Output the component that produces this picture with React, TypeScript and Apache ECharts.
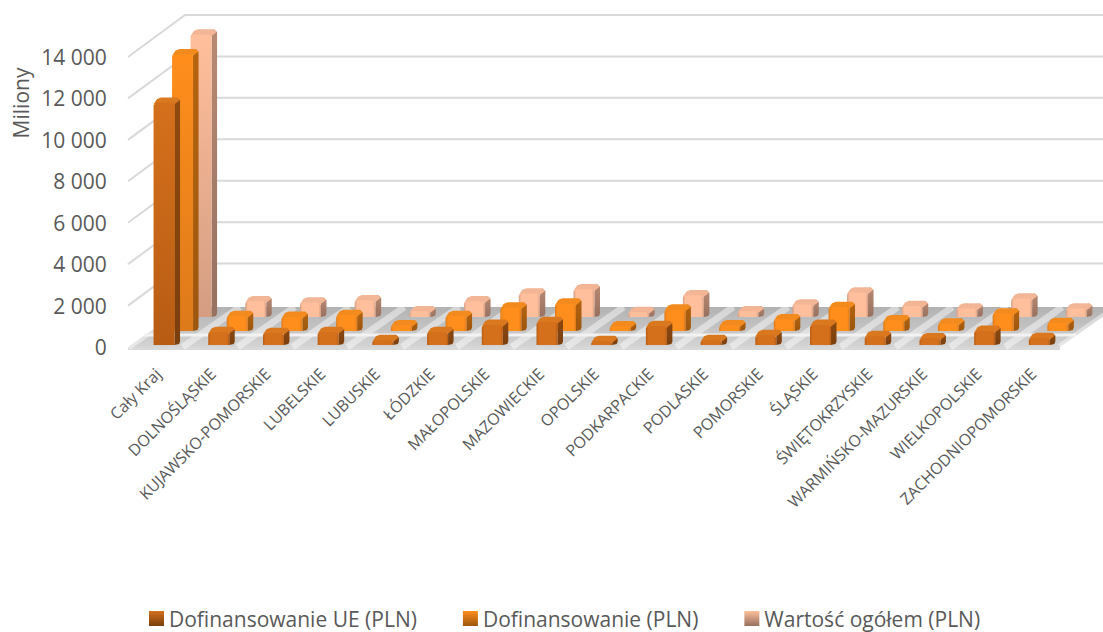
import React, { useEffect, useRef } from "react";
import * as echarts from "echarts";

const categories = ["Cały Kraj","DOLNOŚLĄSKIE","KUJAWSKO-POMORSKIE","LUBELSKIE","LUBUSKIE","ŁÓDZKIE","MAŁOPOLSKIE","MAZOWIECKIE","OPOLSKIE","PODKARPACKIE","PODLASKIE","POMORSKIE","ŚLĄSKIE","ŚWIĘTOKRZYSKIE","WARMIŃSKO-MAZURSKIE","WIELKOPOLSKIE","ZACHODNIOPOMORSKIE"];
const dofinansowanieUE = [11690,630,580,630,240,630,970,1110,190,920,240,480,970,430,320,680,340];
const dofinansowanie = [13360,725,680,770,280,725,1130,1320,230,1030,275,565,1160,515,355,845,385];
const wartoscOgolem = [13640,757,695,805,275,757,1130,1340,240,1050,275,600,1180,530,405,890,405];
const wallTicks = [2000,4000,6000,8000,10000,12000,14000];
const seriesNames = ["Dofinansowanie UE (PLN)","Dofinansowanie (PLN)","Wartość ogółem (PLN)"];

const FW = 21, DX = 5.5, DY = 5.3;
const GRID_LEFT = 130.7;
const looks = [
  { ox: -4.5, oy: -2, top: "#d9781f", frontA: "#d4701c", frontB: "#b85c14", sideA: "#8f4a10", sideB: "#7a3f0e" },
  { ox: 14, oy: -16, top: "#f28a1e", frontA: "#ff8e1c", frontB: "#dd7a1a", sideA: "#b5640f", sideB: "#9c560e" },
  { ox: 32.5, oy: -30, top: "#f2b595", frontA: "#ffbf9c", frontB: "#d49d82", sideA: "#b98a72", sideB: "#967060" },
];

function barItem(idx: number) {
  const k = looks[idx];
  return (params: any, api: any) => {
    const p0 = api.coord([api.value(0), 0]);
    const p1 = api.coord([api.value(0), api.value(1)]);
    const x = p0[0] + k.ox, yb = p0[1] + k.oy, yt = p1[1] + k.oy;
    const grad = (a: string, b: string) => new echarts.graphic.LinearGradient(0, 0, 0, 1, [{ offset: 0, color: a }, { offset: 1, color: b }]);
    const frontFill = new echarts.graphic.LinearGradient(0, 0, 1, 0, [
      { offset: 0, color: k.frontB },
      { offset: 0.12, color: k.frontA },
      { offset: 0.88, color: k.frontA },
      { offset: 1, color: k.frontB },
    ]);
    const h = yb - yt;
    const r = 3;
    return {
      type: "group",
      children: [
        { type: "polygon", shape: { points: [[x + FW, yb], [x + FW + DX - 1, yb - 1], [x + FW + DX, yb - DY + 1.5], [x + FW + DX, yt - DY + 3], [x + FW + DX - 3, yt - DY], [x + FW, yt]] }, style: { fill: grad(k.sideA, k.sideB) } },
        { type: "polygon", shape: { points: [[x, yt + 1.5], [x + DX - 2, yt - DY + 1.5], [x + DX + 2, yt - DY], [x + FW + DX - 3, yt - DY], [x + FW + DX, yt - DY + 2.5], [x + FW, yt + 1.5]] }, style: { fill: k.top } },
        { type: "polygon", shape: { points: [[x, yt + r * 0.7], [x + r, yt], [x + FW - r, yt], [x + FW, yt + r * 0.7], [x + FW, yb], [x, yb]] }, style: { fill: h > 40 ? grad(k.frontA, k.frontB) : frontFill } },
      ],
    };
  };
}

function floorItem(params: any, api: any) {
  const sys = params.coordSys;
  const fx = sys.x - 2.7, fy = sys.y + sys.height;
  const rx = fx + 932;
  const bx = 57, by = 42;
  const children: any[] = [
    { type: "polygon", shape: { points: [[fx, fy], [fx + bx, fy - by + 2], [rx + bx, fy - by + 2], [rx, fy]] }, style: { fill: new echarts.graphic.LinearGradient(0, 0, 0, 1, [{ offset: 0, color: "#b2b2b2" }, { offset: 0.3, color: "#bcbcbc" }, { offset: 0.62, color: "#c6c6c6" }, { offset: 1, color: "#d4d4d4" }]) } },
    { type: "polygon", shape: { points: [[fx, fy], [rx, fy], [rx, fy + 3], [fx, fy + 3]] }, style: { fill: "#d8d8d8" } },
  ];
  for (let i = 0; i <= categories.length; i++) {
    const sx = fx + ((rx - fx) * i) / categories.length;
    children.push({ type: "line", shape: { x1: sx, y1: fy, x2: sx + bx, y2: fy - by + 2 }, style: { stroke: "rgba(255,255,255,0.45)", lineWidth: 7 } });
  }
  const ly = fy - 12;
  const lx = fx + 16;
  children.push({ type: "line", shape: { x1: lx, y1: ly, x2: rx + 16, y2: ly }, style: { stroke: "#f2f2f2", lineWidth: 3 } });
  return { type: "group", children };
}

function wallItem(params: any, api: any) {
  const sys = params.coordSys;
  const p = api.coord([0, api.value(0)]);
  const x = sys.x - 2.7, y = p[1];
  return {
    type: "polyline",
    shape: { points: [[x, y], [x + 57, y - 42], [1110, y - 42]] },
    style: { fill: "none", stroke: "#d9d9d9", lineWidth: 2 },
  };
}

const toData = (vals: number[]) => vals.map((v, i) => [i, v]);

export default function App() {
  const ref = useRef<HTMLDivElement>(null);
  useEffect(() => {
    document.body.style.margin = "0";
    const chart = echarts.init(ref.current!, null, { renderer: "svg" });
    const font = "'Open Sans', sans-serif";
    const mkSeries = (name: string, vals: number[], idx: number) => ({
      type: "custom",
      name,
      coordinateSystem: "cartesian2d",
      renderItem: barItem(idx),
      data: toData(vals),
      encode: { x: 0, y: 1 },
      clip: false,
      z: 6 - idx,
      itemStyle: { color: new echarts.graphic.LinearGradient(0, 0, 0, 1, [{ offset: 0, color: looks[idx].frontA }, { offset: 1, color: looks[idx].sideB }]) },
    });
    chart.setOption({
      animation: false,
      backgroundColor: "#ffffff",
      textStyle: { fontFamily: font },
      grid: { left: GRID_LEFT, width: 930, top: 57, height: 290, containLabel: false },
      xAxis: {
        type: "category",
        data: categories,
        axisLine: { show: false },
        axisTick: { show: false },
        splitLine: { show: false },
        axisLabel: { interval: 0, rotate: 45, fontSize: 16, color: "#595959", margin: 24, fontFamily: font },
      },
      yAxis: {
        type: "value",
        min: 0,
        max: 14000,
        interval: 2000,
        axisLine: { show: false },
        axisTick: { show: false },
        splitLine: { show: false },
        axisLabel: {
          fontSize: 21,
          color: "#595959",
          margin: 24,
          fontFamily: font,
          formatter: (v: number) => String(v).replace(/\B(?=(\d{3})+$)/g, " "),
        },
      },
      legend: {
        data: seriesNames,
        left: 149,
        top: 608,
        padding: 0,
        itemWidth: 15,
        itemHeight: 15,
        itemGap: 46,
        icon: "rect",
        textStyle: { fontSize: 21, color: "#595959", fontFamily: font },
      },
      graphic: [
        { type: "text", x: 21, y: 103, rotation: Math.PI / 2, style: { text: "Miliony", fontSize: 21, fill: "#595959", fontFamily: font, align: "center", verticalAlign: "middle" } },
      ],
      series: [
        { type: "custom", name: "wall", coordinateSystem: "cartesian2d", renderItem: wallItem, data: wallTicks.map((v) => [v]), encode: { y: 0 }, clip: false, silent: true, z: 1 },
        { type: "custom", name: "floor", coordinateSystem: "cartesian2d", renderItem: floorItem, data: [[0, 0]], encode: { x: 0, y: 1 }, clip: false, silent: true, z: 2 },
        mkSeries(seriesNames[0], dofinansowanieUE, 0),
        mkSeries(seriesNames[1], dofinansowanie, 1),
        mkSeries(seriesNames[2], wartoscOgolem, 2),
      ],
    });
    return () => chart.dispose();
  }, []);
  return <div ref={ref} style={{ position: "fixed", left: 0, top: 0, width: 1103, height: 632, overflow: "hidden" }} />;
}
